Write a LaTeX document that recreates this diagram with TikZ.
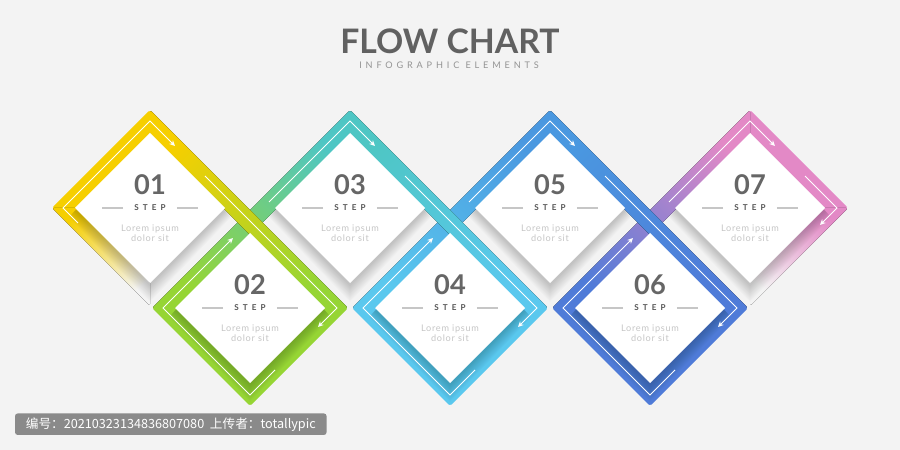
\documentclass[tikz,border=0pt]{standalone}
\usepackage{fontspec}
\setmainfont{Lato}
\newfontfamily\cjkfont{Noto Sans CJK SC}
\usepackage{tikz}
\usetikzlibrary{arrows.meta, calc}

\definecolor{bgray}{HTML}{F3F3F3}
\definecolor{c01}{HTML}{F6CF00}
\definecolor{c02}{HTML}{96D534}
\definecolor{c03}{HTML}{4EC6C4}
\definecolor{c04}{HTML}{5AC8EE}
\definecolor{c05}{HTML}{4A98E0}
\definecolor{c06}{HTML}{4F7BD8}
\definecolor{c07}{HTML}{E389C6}
\definecolor{numgray}{HTML}{666666}
\definecolor{stepgray}{HTML}{555555}
\definecolor{softgray}{HTML}{C6C6C6}
\definecolor{wmgray}{HTML}{8A8A8A}

% half diagonals: band outside, band inside, white card, arrow line
\newcommand{\outr}{0.98}
\newcommand{\innr}{0.73}
\newcommand{\wht}{0.75}
\newcommand{\lin}{0.87}

\begin{document}
\begin{tikzpicture}[x=2cm, y=2cm, >={Stealth[length=3.2pt, width=3pt]},
    flowline/.style={white, line width=0.55pt},
    numtext/.style={text=numgray, font=\bfseries\fontsize{15.5}{16}\selectfont, inner sep=0pt},
    steptext/.style={text=stepgray, font=\bfseries\fontsize{4.6}{5}\selectfont\addfontfeatures{LetterSpace=50}, inner sep=0pt},
    stepline/.style={softgray, line width=0.6pt},
    loremtext/.style={text=softgray, font=\fontsize{5.2}{6}\selectfont\addfontfeatures{LetterSpace=8}, align=center, inner sep=0pt},
    titletext/.style={text=numgray!95!black, font=\bfseries\fontsize{19.2}{21}\selectfont, inner sep=0pt},
    subtext/.style={text=gray!85, font=\fontsize{5.2}{6}\selectfont\addfontfeatures{LetterSpace=42}, inner sep=0pt},
    wmbar/.style={fill=wmgray, rounded corners=1.5pt, text=white, font=\cjkfont\fontsize{7.2}{8}\selectfont,
      minimum width=6.23cm, minimum height=0.43cm, inner sep=0pt}]

  % canvas
  \useasboundingbox (0,0) rectangle (9,4.5);
  \fill[bgray] (0,0) rectangle (9,4.5);

  % title
  \node[titletext] (title) at (4.5,4.085) {FLOW CHART};
  \node[subtext] (subtitle) at (4.49,3.85) {INFOGRAPHIC ELEMENTS};

  % first card: top-left side and fading lower-left side
  \begin{scope}[shift={(1.5,2.42)}, rounded corners=1.2pt]
    \fill[c01] (-\outr,0) -- (0,\outr) -- (0,\innr) -- (-\innr,0) -- cycle;
    \fill[top color=c01, bottom color=bgray, shading angle=45]
      (-\outr,0) -- (0,-\outr) -- (0,-\innr) -- (-\innr,0) -- cycle;
  \end{scope}

  % last card: top-right side and fading lower-right side
  \begin{scope}[shift={(7.5,2.42)}, rounded corners=1.2pt]
    \fill[c07] (0,\outr) -- (\outr,0) -- (\innr,0) -- (0,\innr) -- cycle;
    \fill[top color=c07, bottom color=bgray, shading angle=-45]
      (\outr,0) -- (0,-\outr) -- (0,-\innr) -- (\innr,0) -- cycle;
  \end{scope}

  % lower cards with the long bands running into their neighbours
  \foreach \x/\ca/\cb/\cc in {2.5/c01/c02/c03, 4.5/c03/c04/c05, 6.5/c05/c06/c07} {
    \begin{scope}[shift={(\x,1.42)}, rounded corners=1.2pt]
      \fill[top color=\cc, bottom color=\cb, shading angle=-45]
        (-\outr,0) -- (1,1+\outr) -- (1,1+\innr) -- (-\innr,0) -- cycle;
      \fill[\cb] (-\outr,0) -- (0,-\outr) -- (0,-\innr) -- (-\innr,0) -- cycle;
      \fill[\cb] (0,-\outr) -- (\outr,0) -- (\innr,0) -- (0,-\innr) -- cycle;
      \fill[top color=\ca, bottom color=\cb, shading angle=45]
        (-1,1+\outr) -- (\outr,0) -- (\innr,0) -- (-1,1+\innr) -- cycle;
    \end{scope}
  }

  % soft shadows under the white cards
  \foreach \x/\y in {1.5/2.42, 2.5/1.42, 3.5/2.42, 4.5/1.42, 5.5/2.42, 6.5/1.42, 7.5/2.42} {
    \begin{scope}[shift={(\x,\y)}]
      \foreach \k in {1,...,12}
        \fill[black, opacity=0.014] (-\wht-0.005*\k,-0.02-0.006*\k) -- (0,\wht-0.04)
          -- (\wht+0.005*\k,-0.02-0.006*\k) -- (0,-\wht-0.02-0.014*\k) -- cycle;
    \end{scope}
  }

  % white cards
  \foreach \x/\y in {1.5/2.42, 2.5/1.42, 3.5/2.42, 4.5/1.42, 5.5/2.42, 6.5/1.42, 7.5/2.42}
    \fill[white] (\x-\wht,\y) -- (\x,\y+\wht) -- (\x+\wht,\y) -- (\x,\y-\wht) -- cycle;

  % arrow lines inside the bands
  \begin{scope}[shift={(1.5,2.42)}]
    \draw[flowline, ->] (-0.72,-0.15) -- (-\lin,0) -- (0,\lin) -- (0.25,0.62);
  \end{scope}
  \foreach \x in {2.5, 4.5, 6.5} {
    \begin{scope}[shift={(\x,1.42)}]
      \draw[flowline, ->] (-0.45,1.32) -- (\lin,0) -- (0.68,-0.19);
      \draw[flowline, ->] (0.25,-0.62) -- (0,-\lin) -- (-\lin,0) -- (-0.17,0.70);
      \draw[flowline, ->] (0.19,1.06) -- (1,1+\lin) -- (1.25,1.62);
    \end{scope}
  }
  \begin{scope}[shift={(7.5,2.42)}]
    \draw[flowline, ->] (0.55,0.32) -- (\lin,0) -- (0.70,-0.17);
  \end{scope}

  % card texts
  \foreach \n/\x/\y in {01/1.5/2.42, 02/2.5/1.42, 03/3.5/2.42, 04/4.5/1.42, 05/5.5/2.42, 06/6.5/1.42, 07/7.5/2.42} {
    \node[numtext] (num\n) at (\x,\y+0.235) {\n};
    \node[steptext] (step\n) at (\x,\y) {STEP};
    \draw[stepline] ($(step\n.west)+(-0.11,0)$) -- ++(-0.21,0);
    \draw[stepline] ($(step\n.east)+(0.11,0)$) -- ++(0.21,0);
    \node[loremtext] (lorem\n) at (\x,\y-0.25) {Lorem ipsum\\dolor sit};
  }

  % watermark bar
  \node[wmbar] (wm) at (1.708,0.258) {编号：20210323134836807080\ \ 上传者：totallypic};
\end{tikzpicture}
\end{document}
